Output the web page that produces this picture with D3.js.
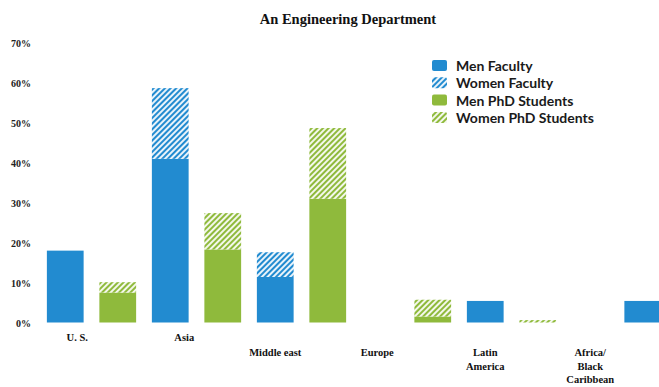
<!DOCTYPE html>
<html>
<head>
<meta charset="utf-8">
<script src="https://cdn.jsdelivr.net/npm/d3@7"></script>
<style>
    body { margin: 0; background: #fff; }
    .tick-label { font-family: "Liberation Serif", serif; font-weight: bold; font-size: 10px; fill: #222; }
    .cat-label { font-family: "Liberation Serif", serif; font-weight: bold; font-size: 10.5px; fill: #111; }
    .legend text { font-family: Lato, "Open Sans", sans-serif; font-weight: bold; font-size: 14px; fill: #1a1a1a; }
</style>
</head>
<body>
<svg id="chart"></svg>
<script>
            var title = "An Engineering Department";
            var categories = ["U. S.", "Asia", "Middle east", "Europe", "Latin America", "Africa/ Black Caribbean"];
            var categoryLines = [["U. S."], ["Asia"], ["Middle east"], ["Europe"], ["Latin", "America"], ["Africa/", "Black", "Caribbean"]];

            // percent values, one per category
            var menFaculty   = [18, 41, 11.4, 0, 5.4, 5.4];
            var womenFaculty = [0, 17.7, 6.2, 0, 0, 0];
            var menPhD       = [7.5, 18.3, 31, 1.5, 0, 0];
            var womenPhD     = [2.6, 9.1, 17.7, 4.2, 0.6, 0];

            // order of the bars along the axis (Africa's faculty bar sits last)
            var slots = [
                [0, "fac"], [0, "phd"], [1, "fac"], [1, "phd"], [2, "fac"], [2, "phd"],
                [3, "fac"], [3, "phd"], [4, "fac"], [4, "phd"], [5, "phd"], [5, "fac"]
            ];
            var labelSlot = [0, 2, 4, 6, 8, 10];

            var yTicks = [0, 10, 20, 30, 40, 50, 60, 70];
            var seriesNames = ["Men Faculty", "Women Faculty", "Men PhD Students", "Women PhD Students"];

            var width = 659;
            var height = 387;

            var blue = "#228bd0";
            var green = "#8fba3c";

            var svg = d3.select("#chart")
                .attr("width", width)
                .attr("height", height);

            var defs = svg.append("defs");

            function hatch(id, color) {
                var p = defs.append("pattern")
                    .attr("id", id)
                    .attr("patternUnits", "userSpaceOnUse")
                    .attr("width", 4)
                    .attr("height", 4)
                    .attr("patternTransform", "rotate(45)");
                p.append("rect").attr("width", 4).attr("height", 4).attr("fill", color);
                p.append("line")
                    .attr("x1", 1).attr("y1", 0).attr("x2", 1).attr("y2", 4)
                    .attr("stroke", "#fff").attr("stroke-width", 1.8);
            }
            hatch("hatchBlue", blue);
            hatch("hatchGreen", green);

            var x = d3.scaleBand()
                .domain(d3.range(slots.length))
                .range([39, 669])
                .paddingInner(0.3)
                .paddingOuter(0.15);

            var y = d3.scaleLinear()
                .domain([0, 70])
                .range([322.5, 43]);

            // title
            svg.append("text")
                .attr("x", 348)
                .attr("y", 24)
                .attr("text-anchor", "middle")
                .style("font-family", "'Liberation Serif', serif")
                .style("font-weight", "bold")
                .style("font-size", "14.5px")
                .style("fill", "#111")
                .text(title);

            // y axis labels only
            svg.selectAll(".tick-label")
                .data(yTicks)
                .enter().append("text")
                .attr("class", "tick-label")
                .attr("x", 31)
                .attr("y", function(d) { return y(d) + 4; })
                .attr("text-anchor", "end")
                .text(function(d) { return d + "%"; });

            // stacked segments
            var segments = [];
            slots.forEach(function(s, i) {
                var c = s[0];
                var base, top;
                if (s[1] === "fac") {
                    base = menFaculty[c]; top = womenFaculty[c];
                    segments.push({slot: i, y0: 0, y1: base, fill: blue});
                    segments.push({slot: i, y0: base, y1: base + top, fill: "url(#hatchBlue)"});
                } else {
                    base = menPhD[c]; top = womenPhD[c];
                    segments.push({slot: i, y0: 0, y1: base, fill: green});
                    segments.push({slot: i, y0: base, y1: base + top, fill: "url(#hatchGreen)"});
                }
            });

            svg.selectAll(".bar")
                .data(segments.filter(function(d) { return d.y1 > d.y0; }))
                .enter().append("rect")
                .attr("class", "bar")
                .attr("x", function(d) { return x(d.slot); })
                .attr("width", x.bandwidth())
                .attr("y", function(d) { return y(d.y1); })
                .attr("height", function(d) { return y(d.y0) - y(d.y1); })
                .attr("fill", function(d) { return d.fill; });

            // category labels, first two on the upper row
            var labelNudge = [12, 14, 0, -3, 0, 0];
            var cats = svg.selectAll(".cat-label")
                .data(categories)
                .enter().append("text")
                .attr("class", "cat-label")
                .attr("text-anchor", "middle")
                .attr("transform", function(d, i) {
                    var cx = x(labelSlot[i]) + x.bandwidth() / 2 + labelNudge[i];
                    var cy = i < 2 ? 341 : 356;
                    return "translate(" + cx + "," + cy + ")";
                });

            cats.selectAll("tspan")
                .data(function(d, i) { return categoryLines[i]; })
                .enter().append("tspan")
                .attr("x", 0)
                .attr("dy", function(d, j) { return j === 0 ? 0 : 13.5; })
                .text(function(d) { return d; });

            // legend
            var legendFills = [blue, "url(#hatchBlue)", green, "url(#hatchGreen)"];
            var legend = svg.append("g")
                .attr("class", "legend")
                .attr("transform", "translate(432,60)");

            var rows = legend.selectAll("g")
                .data(seriesNames)
                .enter().append("g")
                .attr("transform", function(d, i) { return "translate(0," + (i * 17.3) + ")"; });

            rows.append("rect")
                .attr("width", 15)
                .attr("height", 11)
                .attr("rx", 2)
                .attr("fill", function(d, i) { return legendFills[i]; });

            rows.append("text")
                .attr("x", 24)
                .attr("y", 11)
                .text(function(d) { return d; });
</script>
</body>
</html>
